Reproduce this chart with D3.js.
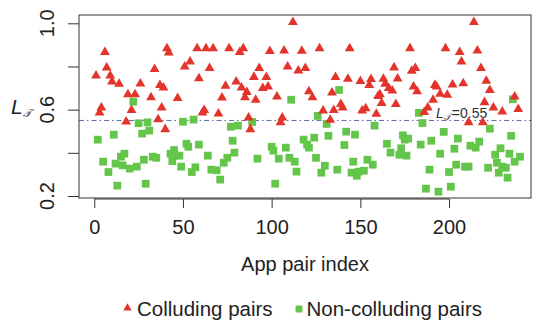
<!DOCTYPE html>
<html>
<head>
<meta charset="utf-8">
<script src="https://cdn.jsdelivr.net/npm/d3@7"></script>
<style>
  body { margin: 0; background: #fff; }
  svg { font-family: "Liberation Sans", Arial, sans-serif; }
</style>
</head>
<body>
<svg id="chart" width="535" height="322"></svg>
<script>
// colluding pairs (red triangles)
const collX = [1, 6, 7, 9, 10, 14, 4, 3, 19, 23, 26, 21, 18, 34, 32, 37, 39, 38, 36, 40, 41, 42, 47, 51, 54, 58, 59,
  63, 67, 76, 84, 82, 99, 107, 117, 65, 74, 80, 83, 86, 72, 85, 91, 90, 93, 97, 95, 98, 103, 109, 115, 119, 62, 61, 70, 87, 88, 106, 105, 121, 112,
  127, 144, 178, 136, 143, 150, 156, 155, 163, 164, 166, 168, 171, 169, 179, 181, 180, 182, 123, 134, 139, 140, 135, 129, 133, 151, 153, 159, 160, 161, 162, 170,
  214, 198, 206, 216, 207, 218, 192, 193, 202, 208, 221, 223, 195, 199, 191, 188, 186, 220, 225, 230, 237, 239, 211, 219];
const collY = [0.757, 0.866, 0.794, 0.757, 0.73, 0.719, 0.609, 0.586, 0.671, 0.671, 0.72, 0.598, 0.544, 0.788, 0.657, 0.713, 0.702, 0.609, 0.555, 0.509, 0.884, 0.864, 0.653, 0.799, 0.822, 0.884, 0.745,
  0.884, 0.884, 0.884, 0.884, 0.866, 0.871, 0.873, 0.872, 0.792, 0.71, 0.73, 0.702, 0.681, 0.656, 0.657, 0.645, 0.751, 0.792, 0.75, 0.7, 0.706, 0.66, 0.799, 0.781, 0.792, 0.598, 0.586, 0.581, 0.563, 0.509, 0.563, 0.541, 0.684, 1.005,
  0.884, 0.884, 0.884, 0.75, 0.742, 0.732, 0.741, 0.713, 0.742, 0.719, 0.7, 0.688, 0.744, 0.795, 0.779, 0.792, 0.706, 0.684, 0.657, 0.679, 0.625, 0.609, 0.598, 0.595, 0.552, 0.595, 0.606, 0.58, 0.663, 0.671, 0.63, 0.625,
  1.005, 0.884, 0.866, 0.873, 0.822, 0.792, 0.714, 0.706, 0.716, 0.722, 0.733, 0.69, 0.673, 0.668, 0.645, 0.609, 0.588, 0.634, 0.609, 0.591, 0.66, 0.602, 0.541, 0.541];

// non-colluding pairs (green squares)
const nonX = [22, 2, 11, 25, 30, 27, 31, 50, 56, 5, 8, 12, 15, 17, 16, 20, 24, 28, 33, 35, 13, 29, 43, 45, 46, 48, 44, 49, 52, 53, 59, 55, 57,
  111, 77, 81, 89, 78, 64, 79, 75, 73, 66, 69, 71, 92, 100, 101, 104, 108, 110, 113, 114, 102, 118, 120, 121,
  138, 126, 131, 158, 183, 185, 124, 132, 142, 147, 141, 125, 130, 128, 137, 146, 145, 148, 149, 152, 154, 157, 165, 167, 172, 173, 176, 174, 175, 177, 184,
  236, 197, 223, 235, 190, 205, 203, 212, 215, 217, 195, 229, 226, 234, 240, 237, 227, 230, 232, 228, 233, 222, 204, 209, 211, 200, 189, 187, 194, 201];
const nonY = [0.637, 0.461, 0.484, 0.537, 0.541, 0.489, 0.503, 0.544, 0.554, 0.359, 0.311, 0.35, 0.382, 0.396, 0.342, 0.327, 0.336, 0.368, 0.382, 0.377, 0.248, 0.257, 0.396, 0.413, 0.387, 0.387, 0.362, 0.336, 0.442, 0.428, 0.438, 0.311, 0.333,
  0.646, 0.521, 0.526, 0.543, 0.456, 0.387, 0.401, 0.377, 0.354, 0.322, 0.319, 0.276, 0.373, 0.428, 0.41, 0.373, 0.424, 0.377, 0.359, 0.313, 0.257, 0.461, 0.438, 0.424,
  0.691, 0.571, 0.534, 0.526, 0.585, 0.538, 0.47, 0.479, 0.498, 0.484, 0.436, 0.377, 0.34, 0.308, 0.322, 0.359, 0.308, 0.294, 0.313, 0.317, 0.368, 0.345, 0.442, 0.401, 0.391, 0.421, 0.387, 0.481, 0.461, 0.466, 0.438,
  0.648, 0.497, 0.512, 0.479, 0.456, 0.466, 0.419, 0.433, 0.424, 0.452, 0.396, 0.421, 0.391, 0.396, 0.382, 0.359, 0.354, 0.336, 0.331, 0.308, 0.285, 0.331, 0.345, 0.336, 0.336, 0.311, 0.322, 0.234, 0.22, 0.243];

const xTicks = [0, 50, 100, 150, 200];
const yTicks = [0.2, 0.4, 0.6, 0.8, 1.0];
const yLabels = [0.2, 0.6, 1.0];
const threshold = 0.55;

const RED = '#e3342b';
const GREEN = '#63c54a';

const svg = d3.select('#chart');

// plot box
const boxL = 79, boxR = 531, boxT = 15, boxB = 198;

const x = d3.scaleLinear().domain([-8.6, 246.2]).range([boxL, boxR]);
const y = d3.scaleLinear().domain([0.2, 1.0]).range([196, 23.3]);

// threshold line
svg.append('line')
  .attr('x1', boxL).attr('x2', boxR)
  .attr('y1', y(threshold)).attr('y2', y(threshold))
  .attr('stroke', '#5a6aa6')
  .attr('stroke-width', 1)
  .attr('stroke-dasharray', '5,3,1.5,3');

const lt = svg.append('text')
  .attr('x', 436).attr('y', 118)
  .attr('font-size', 14)
  .attr('fill', '#333');
lt.append('tspan').attr('font-style', 'italic').text('L');
lt.append('tspan').attr('font-size', 9).attr('dy', 2).attr('font-style', 'italic').text('𝒯');
lt.append('tspan').attr('dy', -2).attr('dx', 1).text('=0.55');

// points
const tri = d3.symbol().type(d3.symbolTriangle).size(42);
const sq = d3.symbol().type(d3.symbolSquare).size(60);

svg.append('g').selectAll('path')
  .data(d3.range(nonX.length))
  .enter().append('path')
  .attr('d', sq)
  .attr('transform', i => `translate(${x(nonX[i])},${y(nonY[i])})`)
  .attr('fill', GREEN);

svg.append('g').selectAll('path')
  .data(d3.range(collX.length))
  .enter().append('path')
  .attr('d', tri)
  .attr('transform', i => `translate(${x(collX[i])},${y(collY[i])})`)
  .attr('fill', RED);

// frame
svg.append('rect')
  .attr('x', boxL).attr('y', boxT)
  .attr('width', boxR - boxL).attr('height', boxB - boxT)
  .attr('fill', 'none')
  .attr('stroke', '#333')
  .attr('stroke-width', 1);

// x axis
const xa = svg.append('g').attr('transform', `translate(0,${boxB + 1})`)
  .call(d3.axisBottom(x).tickValues(xTicks).tickSize(9).tickPadding(12));
xa.select('.domain').attr('stroke', '#333').attr('d', `M${x(0)},0H${x(200)}`);
xa.selectAll('line').attr('stroke', '#333');
xa.selectAll('text').attr('font-size', 20).attr('fill', '#222')
  .attr('font-family', '"Liberation Sans", Arial, sans-serif');

// y axis
const ya = svg.append('g').attr('transform', `translate(${boxL},0)`)
  .call(d3.axisLeft(y).tickValues(yTicks).tickSize(11).tickFormat(''));
ya.select('.domain').remove();
ya.selectAll('line').attr('stroke', '#333');

svg.append('g').selectAll('text')
  .data(yLabels)
  .enter().append('text')
  .attr('transform', d => `translate(53.5,${y(d)}) rotate(-90)`)
  .attr('text-anchor', 'middle')
  .attr('font-size', 20)
  .attr('fill', '#222')
  .text(d => d.toFixed(1));

// axis titles
svg.append('text')
  .attr('x', 305).attr('y', 271)
  .attr('text-anchor', 'middle')
  .attr('font-size', 20)
  .attr('fill', '#222')
  .text('App pair index');

const yl = svg.append('text')
  .attr('x', 11).attr('y', 114)
  .attr('font-size', 21)
  .attr('fill', '#222');
yl.append('tspan').attr('font-style', 'italic').text('L');
yl.append('tspan').attr('font-size', 11).attr('dy', 3).attr('font-style', 'italic').text('𝒯');

// legend
const leg = svg.append('g');
leg.append('path').attr('d', d3.symbol().type(d3.symbolTriangle).size(30))
  .attr('transform', 'translate(127.5,308)').attr('fill', RED);
leg.append('text').attr('x', 137).attr('y', 316).attr('font-size', 20.5).attr('fill', '#222')
  .text('Colluding pairs');
leg.append('path').attr('d', d3.symbol().type(d3.symbolSquare).size(48))
  .attr('transform', 'translate(299,309)').attr('fill', GREEN);
leg.append('text').attr('x', 306.5).attr('y', 316).attr('font-size', 20.5).attr('fill', '#222')
  .text('Non-colluding pairs');
</script>
</body>
</html>
